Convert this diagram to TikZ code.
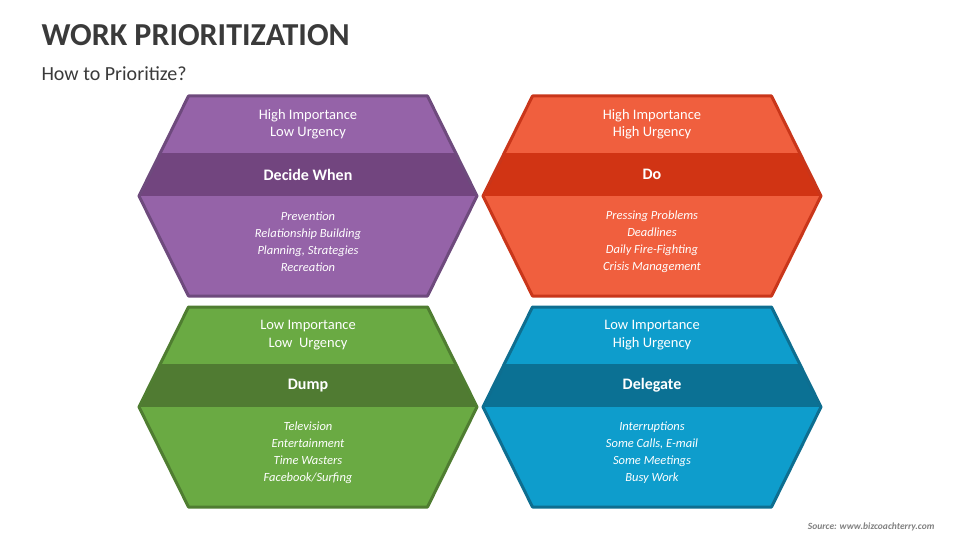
\documentclass[tikz,border=0pt]{standalone}
\usepackage{fontspec}
\setmainfont{Carlito}
\definecolor{pf}{HTML}{9563A8}\definecolor{pb}{HTML}{72457F}\definecolor{pl}{HTML}{6E4A7D}
\definecolor{of}{HTML}{F05F3E}\definecolor{ob}{HTML}{D13414}\definecolor{ol}{HTML}{C9361A}
\definecolor{gf}{HTML}{6AAA43}\definecolor{gb}{HTML}{507B32}\definecolor{gl}{HTML}{4F7D31}
\definecolor{bf}{HTML}{0E9DCC}\definecolor{bb}{HTML}{0B7194}\definecolor{bl}{HTML}{0E6E90}
\definecolor{tt}{HTML}{3A3A3A}
\tikzset{htxt/.style={text=white,font=\fontsize{14.5}{17.5}\selectfont,align=center},
btxt/.style={text=white,font=\fontsize{16}{19}\selectfont\bfseries},
itxt/.style={text=white,font=\fontsize{12.5}{17}\selectfont\itshape,align=center}}
\newcommand{\hexq}[9]{% cx, topy, fill, band, line, t1, t2, t3, name
\begin{scope}[shift={(#1,#2)}]
\path[fill=#3] (-119.5,0)--(119.5,0)--(169,100)--(119.5,200)--(-119.5,200)--(-169,100)--cycle;
\begin{scope}
\clip (-119.5,0)--(119.5,0)--(169,100)--(119.5,200)--(-119.5,200)--(-169,100)--cycle;
\fill[#4] (-180,57) rectangle (180,100);
\end{scope}
\draw[#5,line width=3pt,line join=round] (-119.5,0)--(119.5,0)--(169,100)--(119.5,200)--(-119.5,200)--(-169,100)--cycle;
\node[htxt] (#9a) at (0,28) {#6};
\node[btxt] (#9b) at (0,78.5) {#7};
\node[itxt] (#9c) at (0,146) {#8};
\end{scope}}
\begin{document}
\begin{tikzpicture}[x=1pt,y=-1pt]
\useasboundingbox (0,0) rectangle (960,540);
\node[anchor=west,text=tt,font=\fontsize{32}{36}\selectfont\bfseries] (title) at (38,35) {WORK PRIORITIZATION};
\node[anchor=west,text=tt,font=\fontsize{20}{24}\selectfont] (sub) at (38,74) {How to Prioritize?};
\hexq{308}{96}{pf}{pb}{pl}{High Importance\\Low Urgency}{Decide When}{Prevention\\Relationship Building\\Planning, Strategies\\Recreation}{h1}
\hexq{652}{96}{of}{ob}{ol}{High Importance\\High Urgency}{Do}{Pressing Problems\\Deadlines\\Daily Fire-Fighting\\Crisis Management}{h2}
\hexq{308}{307}{gf}{gb}{gl}{Low Importance\\Low\ \ Urgency}{Dump}{Television\\Entertainment\\Time Wasters\\Facebook/Surfing}{h3}
\hexq{652}{307}{bf}{bb}{bl}{Low Importance\\High Urgency}{Delegate}{Interruptions\\Some Calls, E-mail\\Some Meetings\\Busy Work}{h4}
\node[anchor=east,text=gray,font=\fontsize{9.5}{11}\selectfont\bfseries\itshape] (src) at (938,527) {Source: www.bizcoachterry.com};
\end{tikzpicture}
\end{document}
